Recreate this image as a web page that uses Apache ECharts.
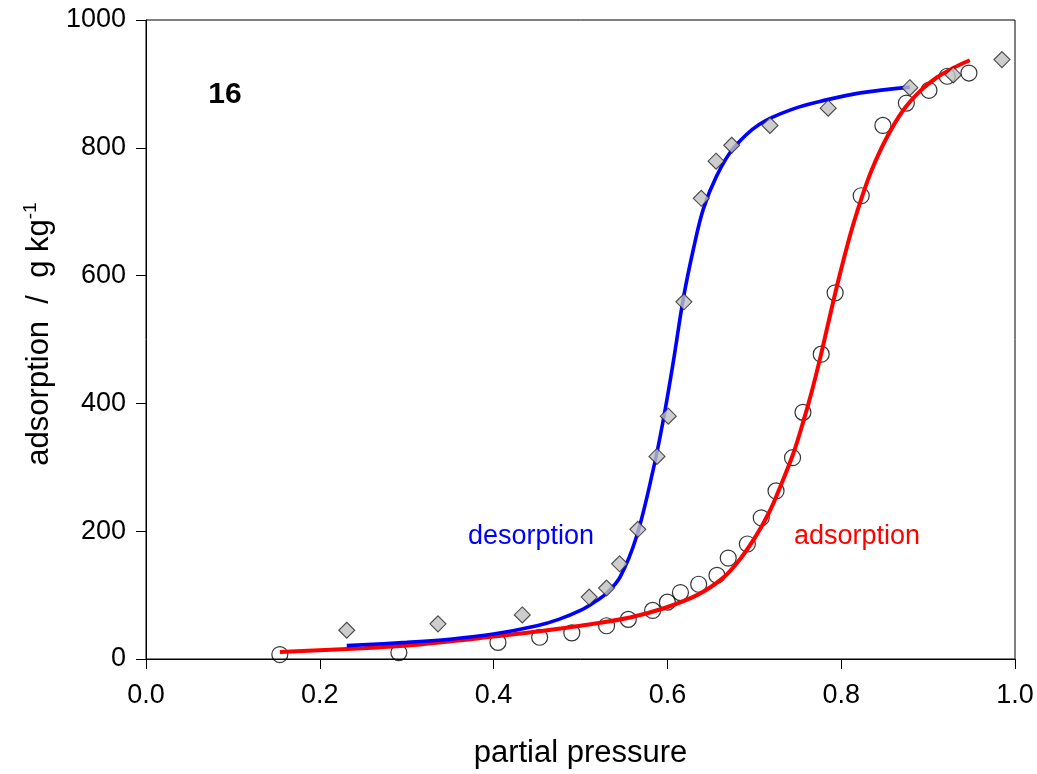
<!DOCTYPE html>
<html>
<head>
<meta charset="utf-8">
<script src="https://cdn.jsdelivr.net/npm/echarts@6/dist/echarts.min.js"></script>
<style>
html,body{margin:0;padding:0;background:#fff;}
#chart{width:1037px;height:774px;}
</style>
</head>
<body>
<div id="chart"></div>
<script>
// desorption measurements (diamonds)
var desorpX = [0.231,0.336,0.433,0.510,0.530,0.545,0.566,0.588,0.601,0.619,0.639,0.656,0.674,0.718,0.785,0.879,0.929,0.985];
var desorpY = [45,55,69,97,111,149,203,317,380,559,721,779,804,835,862,894,914,938];
// adsorption measurements (circles)
var adsorpX = [0.154,0.291,0.405,0.453,0.490,0.530,0.555,0.583,0.600,0.615,0.636,0.657,0.670,0.692,0.708,0.725,0.744,0.756,0.777,0.793,0.823,0.848,0.875,0.901,0.922,0.947];
var adsorpY = [7,10,26,34,41,52,62,76,89,104,117,131,158,180,221,263,315,386,477,573,725,835,870,890,912,917];
// fitted desorption curve (blue)
var desFitX = [0.231,0.30,0.35,0.40,0.45,0.475,0.50,0.515,0.53,0.5455,0.5646,0.5838,0.595,0.6068,0.6183,0.630,0.6413,0.6567,0.6758,0.706,0.745,0.783,0.822,0.879];
var desFitY = [21,26,31,39,52,62,76,88,103,128,192,297,372,465,564,642,704,756,799,837,861,875,886,895];
// fitted adsorption curve (red)
var adsFitX = [0.154,0.25,0.30,0.40,0.45,0.50,0.557,0.595,0.634,0.664,0.684,0.703,0.718,0.730,0.745,0.756,0.766,0.776,0.785,0.795,0.810,0.8236,0.835,0.852,0.871,0.891,0.910,0.929,0.948];
var adsFitY = [11,17,21,35,43,52,65,79,100,127,157,195,232,270,322,370,418,472,525,583,662,722,765,815,858,889,910,925,937];
// axis ticks
var xTicks = {min:0, max:1, interval:0.2};
var yTicks = {min:0, max:1000, interval:200};

function pairs(xs, ys){ return xs.map(function(x,i){ return [x, ys[i]]; }); }

var FONT = "'Liberation Sans', Arial, Helvetica, sans-serif";
var chart = echarts.init(document.getElementById('chart'), null, {renderer:'canvas'});
chart.setOption({
  backgroundColor:'#fff',
  animation:false,
  grid:{left:146, right:22, top:20, bottom:112, show:true, borderColor:'#000', borderWidth:1, backgroundColor:'transparent'},
  xAxis:{
    type:'value', min:xTicks.min, max:xTicks.max, interval:xTicks.interval,
    name:'partial pressure', nameLocation:'middle', nameGap:79,
    nameTextStyle:{fontFamily:FONT, fontSize:31, color:'#000'},
    axisLine:{show:true, onZero:false, lineStyle:{color:'#000', width:1}},
    axisTick:{show:true, inside:false, length:10, lineStyle:{color:'#000', width:1}},
    axisLabel:{fontFamily:FONT, fontSize:27, color:'#000', margin:23, formatter:function(v){return v.toFixed(1);}},
    splitLine:{show:false}
  },
  yAxis:{
    type:'value', min:yTicks.min, max:yTicks.max, interval:yTicks.interval,
    axisLine:{show:true, onZero:false, lineStyle:{color:'#000', width:1}},
    axisTick:{show:true, inside:false, length:10, lineStyle:{color:'#000', width:1}},
    axisLabel:{fontFamily:FONT, fontSize:27, color:'#000', margin:20, formatter:function(v){return String(v);}},
    splitLine:{show:false}
  },
  series:[
    {type:'scatter', name:'adsorption data', data:pairs(adsorpX, adsorpY), symbol:'circle', symbolSize:16, z:2,
      itemStyle:{color:'rgba(255,255,255,0)', borderColor:'#000', borderWidth:1.2}},
    {type:'line', name:'adsorption fit', data:pairs(adsFitX, adsFitY), smooth:0.35, showSymbol:false, z:3,
      lineStyle:{color:'#ff0000', width:4}},
    {type:'line', name:'desorption fit', data:pairs(desFitX, desFitY), smooth:0.35, showSymbol:false, z:3,
      lineStyle:{color:'#0000ff', width:3.6}},
    {type:'scatter', name:'desorption data', data:pairs(desorpX, desorpY), symbol:'diamond', symbolSize:16, z:4,
      itemStyle:{color:'#c0c0c0', borderColor:'#222', borderWidth:1.1}}
  ],
  graphic:[
    {type:'text', x:39, y:334, rotation:Math.PI/2, style:{
      text:'{a|adsorption  /  g kg}{s|-1}', align:'center', verticalAlign:'middle',
      rich:{a:{fontFamily:FONT, fontSize:31, fill:'#000', lineHeight:36},
            s:{fontFamily:FONT, fontSize:19, fill:'#000', lineHeight:19, verticalAlign:'top'}}}},
    {type:'text', x:225, y:95, style:{text:'16', fontFamily:FONT, fontSize:30, fontWeight:'bold', fill:'#000', align:'center', verticalAlign:'middle'}},
    {type:'text', x:531, y:537, style:{text:'desorption', fontFamily:FONT, fontSize:27, fill:'#0000ff', align:'center', verticalAlign:'middle'}},
    {type:'text', x:857, y:537, style:{text:'adsorption', fontFamily:FONT, fontSize:27, fill:'#ff0000', align:'center', verticalAlign:'middle'}}
  ]
});
</script>
</body>
</html>
